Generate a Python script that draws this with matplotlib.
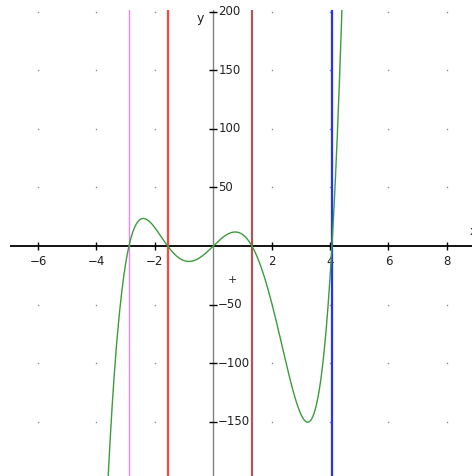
import numpy as np
import matplotlib
matplotlib.use("Agg")
import matplotlib.pyplot as plt

# roots of the plotted polynomial (leading coeff ~1)
roots = [-2.886, -1.561, 0.0, 1.325, 4.064]
lead = 1.0

# vertical marker lines at the roots
vlines_x = [-2.886, -1.561, 1.325, 4.064]
vlines_col = ["#ee82ee", "#ff4444", "#b05555", "#2233ff"]
vlines_lw = [1.0, 1.6, 1.6, 1.6]

xticks = [-6, -4, -2, 2, 4, 6, 8]
yticks = [-150, -100, -50, 50, 100, 150, 200]
xlim = (-6.96, 8.86)
ylim = (-196.3, 201.5)

fig = plt.figure(figsize=(4.72, 4.76), dpi=100)
ax = fig.add_axes([10 / 472, 0, 462 / 472, 466 / 476])
ax.set_xlim(*xlim)
ax.set_ylim(*ylim)
ax.axis("off")

# grid dots
gx, gy = np.meshgrid(xticks, yticks)
ax.scatter(gx.ravel(), gy.ravel(), s=1.2, c="#888888", linewidths=0, zorder=1)

# axes
ax.axhline(0, color="black", lw=1.3, zorder=3)
ax.axvline(0, color="#808080", lw=1.0, zorder=3)
ax.plot(xticks, [0] * len(xticks), ls="none", marker="|", ms=6, mew=1.0,
        color="black", zorder=3)
ax.plot([0] * len(yticks), yticks, ls="none", marker="_", ms=6, mew=1.0,
        color="black", zorder=3)

for t in xticks:
    ax.text(t, -8, str(t).replace("-", "\u2212"), ha="center", va="top",
            fontsize=8.5, color="#222222")
for t in yticks:
    ax.text(0.17, t, str(t).replace("-", "\u2212"), ha="left", va="center",
            fontsize=8.5, color="#222222")

ax.text(-0.45, 194, "y", ha="center", va="center", fontsize=9, color="#222222")
ax.text(8.78, 12, "x", ha="left", va="center", fontsize=9, color="#222222",
        clip_on=True)
ax.text(0.67, -29, "+", ha="center", va="center", fontsize=8, color="#222222")

# vertical lines
for x, c, w in zip(vlines_x, vlines_col, vlines_lw):
    ax.axvline(x, color=c, lw=w, zorder=4)

# polynomial curve
xs = np.linspace(xlim[0], xlim[1], 2000)
ys = lead * np.polyval(np.poly(roots), xs)
ax.plot(xs, ys, color="#3c9c3c", lw=1.0, zorder=5)

fig.savefig("out.png", dpi=100)
